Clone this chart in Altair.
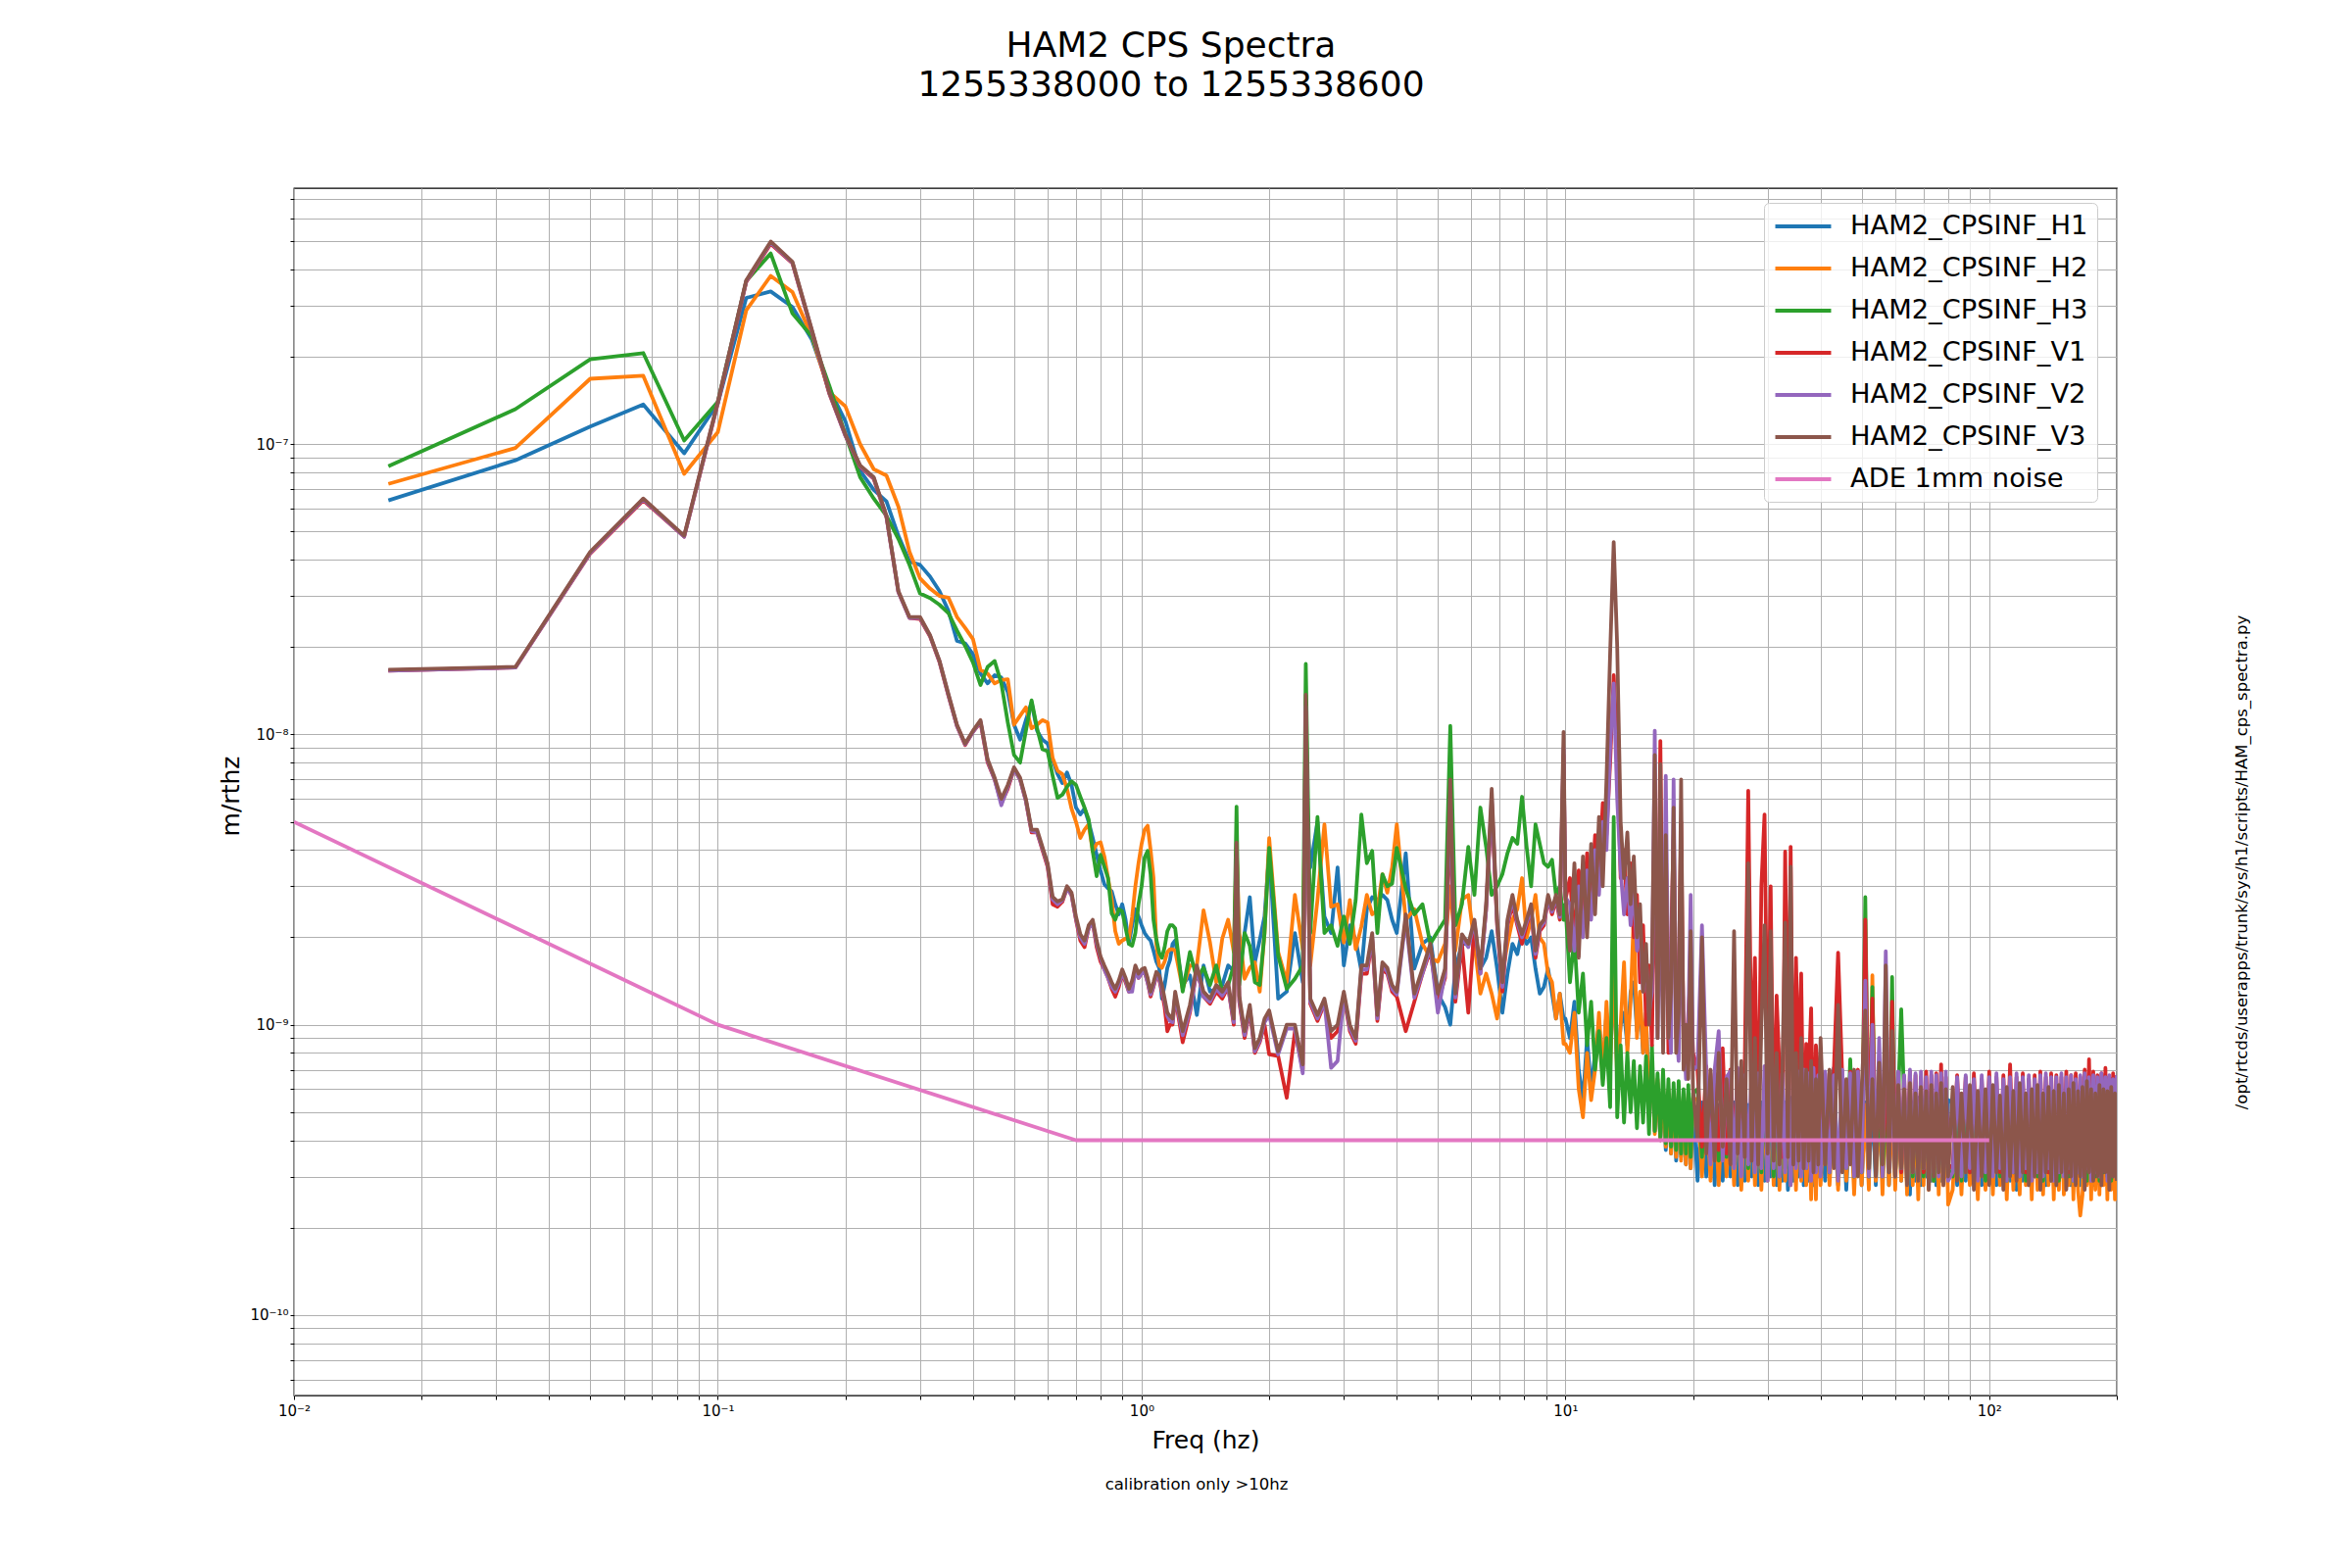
import sys
import altair as alt
import pandas as pd

TITLE_LINES = ["HAM2 CPS Spectra", "1255338000 to 1255338600"]
X_TITLE = "Freq (hz)"
Y_TITLE = "m/rthz"
FOOTNOTE = "calibration only >10hz"
SCRIPT_PATH = "/opt/rtcds/userapps/trunk/sys/h1/scripts/HAM_cps_spectra.py"

SERIES = ["HAM2_CPSINF_H1", "HAM2_CPSINF_H2", "HAM2_CPSINF_H3",
          "HAM2_CPSINF_V1", "HAM2_CPSINF_V2", "HAM2_CPSINF_V3", "ADE 1mm noise"]
COLORS = ["#1f77b4", "#ff7f0e", "#2ca02c", "#d62728", "#9467bd", "#8c564b", "#e377c2"]

# ---------------- frequency grids (Hz) ----------------
FREQ_LO = [
    0.0167, 0.0333, 0.05, 0.0667, 0.0833, 0.1, 0.1167, 0.1333, 0.15, 0.1667,
    0.1833, 0.2, 0.2167, 0.2333, 0.25, 0.2667, 0.2833, 0.3, 0.3167, 0.3333,
    0.35, 0.3667, 0.3833, 0.4, 0.4167, 0.4333, 0.45, 0.4667, 0.4833, 0.5,
    0.5167, 0.5333, 0.55, 0.5667, 0.5833, 0.6, 0.6167, 0.6333, 0.65, 0.6667,
    0.6833, 0.7, 0.7167, 0.7333, 0.75, 0.7667, 0.7833, 0.8, 0.8167, 0.8333,
    0.85, 0.8667, 0.8833, 0.9, 0.9167, 0.9333, 0.95, 0.9667, 0.9833, 1.0,
    1.0167, 1.0333, 1.05, 1.0667, 1.0833, 1.1, 1.1167, 1.1333, 1.15, 1.1667,
    1.1833, 1.2]
FREQ_MID = [
    1.25, 1.3, 1.35, 1.4, 1.45, 1.5, 1.55, 1.6, 1.65, 1.675,
    1.7, 1.75, 1.8, 1.85, 1.9, 1.95, 2.0, 2.1, 2.2, 2.3,
    2.4, 2.44, 2.5, 2.6, 2.7, 2.8, 2.9, 3.0, 3.1, 3.2,
    3.3, 3.4, 3.5, 3.6, 3.7, 3.8, 3.9, 4.0, 4.2, 4.4,
    4.6, 4.8, 5.0, 5.2, 5.35, 5.5, 5.7, 5.9, 6.1, 6.3,
    6.5, 6.7, 6.9, 7.1, 7.3, 7.5, 7.7, 7.9, 8.1, 8.3,
    8.5, 8.7, 8.9, 9.1, 9.3, 9.5, 9.7, 9.9, 10.0]
FREQ_HI = [
    10.25, 10.5, 10.75, 11.0, 11.25, 11.5, 11.75, 12.0, 12.25, 12.5,
    12.75, 13.0, 13.25, 13.5, 13.75, 14.0, 14.25, 14.5, 14.75, 15.0,
    15.25, 15.5, 15.75, 16.0, 16.25, 16.5, 16.75, 17.0, 17.25, 17.5,
    17.75, 18.0, 18.25, 18.5, 18.75, 19.0, 19.25, 19.5, 19.75, 20.0,
    20.5, 21.0, 21.5, 22.0, 22.5, 23.0, 23.5, 24.0, 24.5, 25.0,
    25.5, 26.0, 26.5, 27.0, 27.5, 28.0, 28.5, 29.0, 29.5, 30.0,
    30.5, 31.0, 31.5, 32.0, 32.5, 33.0, 33.5, 34.0, 34.5, 35.0,
    35.5, 36.0, 36.5, 37.0, 37.5, 38.0, 38.5, 39.0, 39.5, 40.0,
    41, 42, 43, 44, 45, 46, 47, 48, 49, 50,
    51, 52, 53, 54, 55, 56, 57, 58, 59, 60,
    61, 62, 63, 64, 65, 66, 67, 68, 69, 70,
    71, 72, 73, 74, 75, 76, 77, 78, 79, 80,
    82, 84, 86, 88, 90, 92, 94, 96, 98, 100,
    102, 104, 106, 108, 110, 112, 114, 116, 118, 120,
    122, 124, 126, 128, 130, 132, 134, 136, 138, 140,
    142, 144, 146, 148, 150, 152, 154, 156, 158, 160,
    162, 164, 166, 168, 170, 172, 174, 176, 178, 180,
    182, 184, 186, 188, 190, 192, 194, 196, 198, 200]

# ---------------- HAM2_CPSINF_H1 (m/rtHz) ----------------
H1_LO = [
    6.4e-8, 8.8e-8, 1.15e-7, 1.37e-7, 9.3e-8, 1.38e-7, 3.19e-7, 3.36e-7, 2.97e-7, 2.29e-7,
    1.55e-7, 1.2e-7, 8.1e-8, 6.96e-8, 6.35e-8, 4.84e-8, 3.94e-8, 3.84e-8, 3.5e-8, 3.12e-8,
    2.67e-8, 2.1e-8, 2.06e-8, 1.89e-8, 1.62e-8, 1.5e-8, 1.6e-8, 1.57e-8, 1.4e-8, 1.08e-8,
    9.6e-9, 1.12e-8, 1.29e-8, 1.03e-8, 9.6e-9, 9.3e-9, 8.2e-9, 7.3e-9, 6.8e-9, 7.4e-9,
    6.7e-9, 5.6e-9, 5.3e-9, 5.55e-9, 5.0e-9, 4.4e-9, 3.85e-9, 3.4e-9, 3.05e-9, 2.95e-9,
    2.88e-9, 2.6e-9, 2.4e-9, 2.6e-9, 2.3e-9, 1.9e-9, 2.2e-9, 2.5e-9, 2.36e-9, 2.2e-9,
    2.07e-9, 2.0e-9, 1.95e-9, 1.8e-9, 1.65e-9, 1.57e-9, 1.23e-9, 1.37e-9, 1.57e-9, 1.67e-9,
    1.9e-9, 1.95e-9]
H1_MID = [
    1.37e-9, 1.48e-9, 1.08e-9, 1.6e-9, 1.3e-9, 1.33e-9, 1.37e-9, 1.6e-9, 1.53e-9, 1.7e-9,
    1.48e-9, 2.07e-9, 2.75e-9, 1.64e-9, 1.96e-9, 2.36e-9, 3.97e-9, 1.23e-9, 1.3e-9, 2.07e-9,
    1.4e-9, 6.0e-9, 3.48e-9, 5.0e-9, 2.36e-9, 2.07e-9, 3.48e-9, 1.6e-9, 2.2e-9, 1.96e-9,
    1.53e-9, 2.5e-9, 2.75e-9, 2.69e-9, 2.8e-9, 2.69e-9, 2.3e-9, 2.07e-9, 3.9e-9, 1.56e-9,
    1.9e-9, 2.0e-9, 1.28e-9, 1.15e-9, 1.0e-9, 1.56e-9, 1.9e-9, 1.9e-9, 2.05e-9, 1.56e-9,
    1.7e-9, 2.1e-9, 1.56e-9, 1.1e-9, 1.5e-9, 1.9e-9, 1.75e-9, 2.1e-9, 1.9e-9, 2.0e-9,
    1.56e-9, 1.28e-9, 1.35e-9, 1.56e-9, 1.28e-9, 1.05e-9, 1.28e-9, 1.05e-9, 1.05e-9]
H1_HI = [
    9.0e-10, 1.2e-9, 7.0e-10, 5.5e-10, 9.0e-10, 6.0e-10, 8.0e-10, 1.0e-9, 7.0e-10, 1.1e-9,
    8.0e-10, 1.4e-9, 7.0e-10, 1.0e-9, 1.1e-9, 8.5e-10, 1.3e-9, 1.4e-9, 9.5e-10, 1.2e-9,
    8.0e-10, 1.05e-9, 5.5e-10, 7.0e-10, 4.3e-10, 6.3e-10, 4.0e-10, 6.0e-10, 3.7e-10, 5.8e-10,
    3.6e-10, 5.6e-10, 3.4e-10, 5.7e-10, 3.5e-10, 5.5e-10, 3.3e-10, 5.6e-10, 3.2e-10, 5.4e-10,
    2.9e-10, 5.4e-10, 3.0e-10, 5.6e-10, 2.8e-10, 5.3e-10, 2.9e-10, 5.5e-10, 3.0e-10, 5.4e-10,
    2.8e-10, 5.6e-10, 2.9e-10, 5.3e-10, 3.0e-10, 5.5e-10, 2.8e-10, 5.4e-10, 2.9e-10, 5.6e-10,
    3.0e-10, 5.3e-10, 2.8e-10, 5.5e-10, 2.9e-10, 5.4e-10, 2.7e-10, 5.6e-10, 2.9e-10, 5.3e-10,
    3.0e-10, 5.5e-10, 2.8e-10, 5.4e-10, 2.9e-10, 5.6e-10, 2.8e-10, 5.3e-10, 3.0e-10, 5.5e-10,
    2.9e-10, 5.4e-10, 7.1e-10, 2.8e-10, 5.5e-10, 2.7e-10, 5.3e-10, 2.9e-10, 5.6e-10, 2.8e-10,
    5.4e-10, 3.0e-10, 5.5e-10, 2.8e-10, 5.3e-10, 2.9e-10, 5.6e-10, 2.8e-10, 5.4e-10, 3.0e-10,
    5.5e-10, 2.9e-10, 5.3e-10, 2.8e-10, 2.6e-10, 5.4e-10, 2.9e-10, 5.6e-10, 2.8e-10, 5.3e-10,
    3.0e-10, 5.5e-10, 2.9e-10, 5.4e-10, 2.8e-10, 5.6e-10, 2.9e-10, 5.3e-10, 3.0e-10, 5.5e-10,
    5.4e-10, 2.8e-10, 5.5e-10, 2.9e-10, 5.3e-10, 3.0e-10, 5.6e-10, 2.8e-10, 5.4e-10, 2.9e-10,
    5.5e-10, 2.8e-10, 5.3e-10, 3.0e-10, 5.6e-10, 2.9e-10, 5.4e-10, 2.7e-10, 5.5e-10, 2.9e-10,
    5.3e-10, 2.8e-10, 5.6e-10, 3.0e-10, 5.4e-10, 2.9e-10, 5.5e-10, 2.8e-10, 5.3e-10, 2.9e-10,
    5.6e-10, 2.8e-10, 5.4e-10, 3.0e-10, 5.5e-10, 2.9e-10, 5.3e-10, 2.8e-10, 5.6e-10, 2.9e-10,
    5.4e-10, 2.8e-10, 5.5e-10, 3.0e-10, 5.3e-10, 2.9e-10, 5.6e-10, 2.8e-10, 5.4e-10, 2.9e-10,
    5.5e-10, 2.8e-10, 5.3e-10, 3.0e-10, 5.6e-10, 2.9e-10, 5.4e-10, 2.8e-10, 5.5e-10, 2.7e-10]

# ---------------- HAM2_CPSINF_H2 ----------------
H2_LO = [
    7.3e-8, 9.7e-8, 1.68e-7, 1.72e-7, 7.9e-8, 1.1e-7, 2.89e-7, 3.8e-7, 3.34e-7, 2.35e-7,
    1.51e-7, 1.35e-7, 1.0e-7, 8.2e-8, 7.8e-8, 6.1e-8, 4.26e-8, 3.45e-8, 3.18e-8, 3.0e-8,
    2.96e-8, 2.54e-8, 2.33e-8, 2.13e-8, 1.67e-8, 1.62e-8, 1.5e-8, 1.54e-8, 1.55e-8, 1.08e-8,
    1.16e-8, 1.24e-8, 1.05e-8, 1.08e-8, 1.12e-8, 1.1e-8, 8.3e-9, 7.5e-9, 7.3e-9, 6.5e-9,
    5.55e-9, 5.0e-9, 4.4e-9, 4.7e-9, 4.9e-9, 3.96e-9, 4.2e-9, 4.25e-9, 3.8e-9, 3.2e-9,
    2.7e-9, 2.1e-9, 1.9e-9, 1.95e-9, 1.98e-9, 1.98e-9, 2.36e-9, 3.0e-9, 3.6e-9, 4.2e-9,
    4.7e-9, 4.85e-9, 4.0e-9, 3.2e-9, 1.9e-9, 1.6e-9, 1.57e-9, 1.65e-9, 1.78e-9, 1.82e-9,
    1.82e-9, 1.8e-9]
H2_MID = [
    1.33e-9, 1.6e-9, 1.6e-9, 2.48e-9, 1.92e-9, 1.4e-9, 1.98e-9, 2.3e-9, 1.78e-9, 4.07e-9,
    2.07e-9, 1.44e-9, 1.57e-9, 1.64e-9, 1.3e-9, 2.07e-9, 4.4e-9, 1.78e-9, 1.4e-9, 2.8e-9,
    1.82e-9, 8.0e-9, 1.6e-9, 2.69e-9, 4.9e-9, 2.55e-9, 2.6e-9, 1.92e-9, 2.69e-9, 1.82e-9,
    2.18e-9, 2.8e-9, 2.4e-9, 2.48e-9, 3.3e-9, 2.85e-9, 3.48e-9, 4.9e-9, 2.3e-9, 2.5e-9,
    1.9e-9, 1.7e-9, 1.65e-9, 1.9e-9, 3.0e-9, 1.8e-9, 2.7e-9, 2.8e-9, 1.9e-9, 1.28e-9,
    1.5e-9, 1.28e-9, 1.05e-9, 1.5e-9, 1.9e-9, 2.3e-9, 2.5e-9, 3.2e-9, 2.0e-9, 2.3e-9,
    2.8e-9, 2.0e-9, 1.9e-9, 1.5e-9, 1.4e-9, 1.05e-9, 1.28e-9, 8.6e-10, 8.6e-10]
H2_HI = [
    8.0e-10, 1.1e-9, 6.0e-10, 4.8e-10, 8.0e-10, 5.5e-10, 7.0e-10, 1.1e-9, 6.5e-10, 1.2e-9,
    7.0e-10, 1.6e-9, 6.5e-10, 1.0e-9, 1.64e-9, 8.0e-10, 1.2e-9, 2.4e-9, 9.0e-10, 1.3e-9,
    8.0e-10, 1.1e-9, 5.0e-10, 7.5e-10, 4.2e-10, 6.5e-10, 4.0e-10, 6.2e-10, 3.8e-10, 6.0e-10,
    3.6e-10, 5.8e-10, 3.5e-10, 6.0e-10, 3.4e-10, 5.7e-10, 3.3e-10, 5.8e-10, 3.2e-10, 5.6e-10,
    5.5e-10, 3.0e-10, 5.7e-10, 2.9e-10, 5.4e-10, 2.8e-10, 5.6e-10, 3.0e-10, 5.3e-10, 2.8e-10,
    5.5e-10, 2.7e-10, 5.4e-10, 2.9e-10, 5.6e-10, 2.8e-10, 5.3e-10, 2.7e-10, 5.5e-10, 2.9e-10,
    5.4e-10, 2.8e-10, 5.6e-10, 2.7e-10, 5.3e-10, 2.9e-10, 5.5e-10, 2.8e-10, 5.4e-10, 2.7e-10,
    5.6e-10, 2.9e-10, 5.3e-10, 2.8e-10, 5.5e-10, 2.5e-10, 5.4e-10, 2.5e-10, 5.6e-10, 2.8e-10,
    5.5e-10, 2.8e-10, 5.3e-10, 2.7e-10, 5.6e-10, 2.9e-10, 5.4e-10, 2.6e-10, 5.5e-10, 2.8e-10,
    5.3e-10, 2.7e-10, 1.48e-9, 2.9e-10, 5.4e-10, 2.6e-10, 5.6e-10, 2.8e-10, 5.3e-10, 2.7e-10,
    5.5e-10, 2.9e-10, 5.4e-10, 2.6e-10, 5.6e-10, 2.8e-10, 5.3e-10, 2.5e-10, 5.5e-10, 2.8e-10,
    5.4e-10, 2.7e-10, 5.6e-10, 2.9e-10, 5.3e-10, 2.6e-10, 5.5e-10, 2.8e-10, 5.4e-10, 2.4e-10,
    2.7e-10, 5.4e-10, 2.6e-10, 5.5e-10, 2.8e-10, 5.3e-10, 2.5e-10, 5.6e-10, 2.7e-10, 5.4e-10,
    2.6e-10, 5.5e-10, 2.8e-10, 5.3e-10, 2.5e-10, 5.6e-10, 2.7e-10, 5.4e-10, 2.6e-10, 5.5e-10,
    2.8e-10, 5.3e-10, 2.5e-10, 5.6e-10, 2.7e-10, 5.4e-10, 2.6e-10, 5.5e-10, 2.8e-10, 5.3e-10,
    2.5e-10, 5.6e-10, 2.7e-10, 5.4e-10, 2.6e-10, 5.5e-10, 2.8e-10, 5.3e-10, 2.5e-10, 5.6e-10,
    2.7e-10, 2.2e-10, 2.6e-10, 5.5e-10, 2.8e-10, 5.3e-10, 2.5e-10, 5.6e-10, 2.7e-10, 5.4e-10,
    2.6e-10, 5.5e-10, 2.8e-10, 5.3e-10, 2.5e-10, 5.6e-10, 2.7e-10, 5.4e-10, 2.5e-10, 5.5e-10]

# ---------------- HAM2_CPSINF_H3 ----------------
H3_LO = [
    8.4e-8, 1.32e-7, 1.96e-7, 2.06e-7, 1.03e-7, 1.4e-7, 3.65e-7, 4.54e-7, 2.82e-7, 2.35e-7,
    1.59e-7, 1.08e-7, 7.7e-8, 6.5e-8, 5.66e-8, 4.72e-8, 3.84e-8, 3.06e-8, 2.95e-8, 2.8e-8,
    2.62e-8, 2.28e-8, 2.02e-8, 1.77e-8, 1.48e-8, 1.71e-8, 1.79e-8, 1.5e-8, 1.1e-8, 8.5e-9,
    8.0e-9, 1.03e-8, 1.31e-8, 1.05e-8, 8.9e-9, 8.75e-9, 7.2e-9, 6.05e-9, 6.2e-9, 6.6e-9,
    6.9e-9, 6.7e-9, 6.1e-9, 5.6e-9, 5.1e-9, 3.96e-9, 3.25e-9, 3.85e-9, 3.5e-9, 3.2e-9,
    2.42e-9, 2.3e-9, 2.5e-9, 2.46e-9, 2.15e-9, 1.9e-9, 1.87e-9, 2.07e-9, 2.6e-9, 3.0e-9,
    3.77e-9, 3.97e-9, 3.3e-9, 2.3e-9, 1.97e-9, 1.77e-9, 1.7e-9, 1.85e-9, 2.1e-9, 2.2e-9,
    2.2e-9, 2.15e-9]
H3_MID = [
    1.3e-9, 1.78e-9, 1.44e-9, 1.57e-9, 1.37e-9, 1.6e-9, 1.3e-9, 1.37e-9, 1.6e-9, 5.64e-9,
    1.37e-9, 2.07e-9, 1.87e-9, 1.4e-9, 1.37e-9, 2.07e-9, 4.07e-9, 1.73e-9, 1.33e-9, 1.44e-9,
    1.6e-9, 1.75e-8, 2.07e-9, 5.2e-9, 2.07e-9, 2.2e-9, 1.87e-9, 2.36e-9, 1.9e-9, 2.69e-9,
    5.3e-9, 3.6e-9, 3.97e-9, 2.07e-9, 3.3e-9, 3.0e-9, 3.06e-9, 4.07e-9, 2.94e-9, 2.4e-9,
    2.6e-9, 1.9e-9, 2.1e-9, 2.3e-9, 1.07e-8, 2.2e-9, 2.6e-9, 4.1e-9, 2.8e-9, 5.6e-9,
    4.1e-9, 2.8e-9, 3.0e-9, 3.3e-9, 3.9e-9, 4.4e-9, 4.2e-9, 6.1e-9, 4.1e-9, 3.0e-9,
    4.9e-9, 4.2e-9, 3.6e-9, 3.5e-9, 3.7e-9, 2.8e-9, 3.0e-9, 2.3e-9, 2.6e-9]
H3_HI = [
    1.4e-9, 2.0e-9, 1.1e-9, 1.5e-9, 8.5e-10, 1.2e-9, 7.0e-10, 9.5e-10, 6.2e-10, 9.0e-10,
    5.2e-10, 5.2e-9, 4.8e-10, 8.5e-10, 4.6e-10, 8.0e-10, 5.0e-10, 7.5e-10, 4.4e-10, 7.2e-10,
    4.6e-10, 7.8e-10, 4.2e-10, 8.5e-10, 4.3e-10, 6.8e-10, 4.1e-10, 7.0e-10, 3.9e-10, 6.5e-10,
    3.8e-10, 6.3e-10, 3.7e-10, 6.4e-10, 3.6e-10, 6.0e-10, 3.6e-10, 6.2e-10, 3.5e-10, 5.8e-10,
    6.0e-10, 3.5e-10, 6.2e-10, 3.6e-10, 5.8e-10, 3.4e-10, 6.0e-10, 3.5e-10, 5.7e-10, 3.3e-10,
    5.9e-10, 3.4e-10, 5.6e-10, 3.2e-10, 5.8e-10, 3.3e-10, 5.5e-10, 3.1e-10, 5.7e-10, 3.2e-10,
    5.6e-10, 3.0e-10, 5.8e-10, 3.0e-10, 5.5e-10, 3.2e-10, 5.7e-10, 3.1e-10, 5.6e-10, 3.3e-10,
    5.5e-10, 3.1e-10, 5.7e-10, 3.2e-10, 5.6e-10, 3.0e-10, 5.8e-10, 3.2e-10, 5.5e-10, 3.1e-10,
    5.8e-10, 3.1e-10, 5.6e-10, 3.0e-10, 5.7e-10, 3.2e-10, 7.6e-10, 3.0e-10, 5.5e-10, 3.1e-10,
    2.75e-9, 3.0e-10, 1.35e-9, 3.2e-10, 5.6e-10, 3.0e-10, 5.8e-10, 3.1e-10, 1.46e-9, 3.0e-10,
    5.7e-10, 1.13e-9, 5.5e-10, 3.1e-10, 5.7e-10, 3.0e-10, 5.6e-10, 3.2e-10, 5.5e-10, 3.0e-10,
    5.8e-10, 3.1e-10, 5.6e-10, 2.9e-10, 5.7e-10, 3.1e-10, 5.5e-10, 3.0e-10, 5.6e-10, 3.2e-10,
    3.0e-10, 5.6e-10, 2.9e-10, 5.5e-10, 3.1e-10, 5.7e-10, 3.0e-10, 5.4e-10, 2.9e-10, 5.6e-10,
    3.1e-10, 5.5e-10, 3.0e-10, 5.7e-10, 2.9e-10, 5.4e-10, 3.1e-10, 5.6e-10, 3.0e-10, 5.5e-10,
    2.9e-10, 5.7e-10, 3.1e-10, 5.4e-10, 3.0e-10, 5.6e-10, 2.9e-10, 5.5e-10, 3.1e-10, 5.7e-10,
    3.0e-10, 5.4e-10, 2.9e-10, 5.6e-10, 3.1e-10, 5.5e-10, 3.0e-10, 5.7e-10, 2.9e-10, 5.4e-10,
    3.1e-10, 5.6e-10, 3.0e-10, 5.5e-10, 2.9e-10, 5.9e-10, 3.1e-10, 5.4e-10, 3.0e-10, 5.6e-10,
    2.9e-10, 5.5e-10, 3.1e-10, 5.7e-10, 3.0e-10, 5.4e-10, 2.9e-10, 5.6e-10, 3.1e-10, 5.5e-10]

# ---------------- HAM2_CPSINF_V1 ----------------
V1_LO = [
    1.66e-8, 1.7e-8, 4.2e-8, 6.4e-8, 4.8e-8, 1.38e-7, 3.62e-7, 4.9e-7, 4.2e-7, 2.45e-7,
    1.49e-7, 1.07e-7, 8.35e-8, 7.6e-8, 5.6e-8, 3.1e-8, 2.52e-8, 2.5e-8, 2.18e-8, 1.78e-8,
    1.36e-8, 1.07e-8, 9.2e-9, 1.02e-8, 1.1e-8, 8.0e-9, 7.0e-9, 5.8e-9, 6.5e-9, 7.6e-9,
    7.0e-9, 5.9e-9, 4.6e-9, 4.6e-9, 4.0e-9, 3.5e-9, 2.6e-9, 2.55e-9, 2.65e-9, 2.95e-9,
    2.8e-9, 2.3e-9, 1.95e-9, 1.85e-9, 2.15e-9, 2.25e-9, 1.85e-9, 1.65e-9, 1.55e-9, 1.45e-9,
    1.33e-9, 1.25e-9, 1.35e-9, 1.5e-9, 1.4e-9, 1.3e-9, 1.38e-9, 1.55e-9, 1.45e-9, 1.5e-9,
    1.52e-9, 1.4e-9, 1.25e-9, 1.35e-9, 1.47e-9, 1.43e-9, 1.3e-9, 1.15e-9, 9.5e-10, 1.0e-9,
    1.0e-9, 1.25e-9]
V1_MID = [
    8.7e-10, 1.1e-9, 1.55e-9, 1.25e-9, 1.18e-9, 1.3e-9, 1.23e-9, 1.35e-9, 1.0e-9, 3.6e-9,
    1.2e-9, 9.0e-10, 1.12e-9, 8.0e-10, 8.7e-10, 1.0e-9, 7.9e-10, 7.8e-10, 5.6e-10, 9.5e-10,
    7.0e-10, 1.2e-8, 1.18e-9, 1.03e-9, 1.18e-9, 9.0e-10, 9.5e-10, 1.25e-9, 9.5e-10, 8.6e-10,
    1.5e-9, 1.5e-9, 1.95e-9, 1.03e-9, 1.55e-9, 1.5e-9, 1.3e-9, 1.25e-9, 9.5e-10, 1.2e-9,
    1.5e-9, 1.8e-9, 1.2e-9, 1.45e-9, 5.5e-9, 1.2e-9, 1.9e-9, 1.1e-9, 2.2e-9, 1.5e-9,
    2.5e-9, 5.8e-9, 2.2e-9, 1.3e-9, 2.2e-9, 2.6e-9, 2.2e-9, 1.9e-9, 2.2e-9, 2.5e-9,
    1.7e-9, 2.1e-9, 2.2e-9, 2.7e-9, 2.4e-9, 2.7e-9, 2.3e-9, 8.5e-9, 2.7e-9]
V1_HI = [
    3.2e-9, 2.0e-9, 3.4e-9, 2.2e-9, 3.9e-9, 2.6e-9, 4.5e-9, 3.2e-9, 5.8e-9, 4.5e-9,
    8.0e-9, 1.6e-8, 9.0e-9, 3.2e-9, 4.0e-9, 2.4e-9, 3.6e-9, 2.0e-9, 2.8e-9, 1.4e-9,
    2.2e-9, 1.0e-9, 1.6e-9, 8.5e-10, 4.0e-9, 1.2e-9, 9.5e-9, 1.1e-9, 4.0e-9, 8.0e-10,
    1.9e-9, 4.5e-9, 9.0e-10, 1.4e-9, 5.0e-9, 9.0e-10, 7.0e-10, 1.1e-9, 1.5e-9, 8.0e-10,
    7.0e-10, 3.8e-10, 7.2e-10, 3.5e-10, 6.8e-10, 3.7e-10, 8.3e-10, 3.6e-10, 7.0e-10, 3.8e-10,
    6.9e-10, 3.5e-10, 7.3e-10, 6.4e-9, 6.8e-10, 1.7e-9, 3.7e-10, 3.0e-9, 5.3e-9, 7.0e-10,
    3.0e-9, 3.6e-10, 1.26e-9, 6.9e-10, 3.5e-10, 3.95e-9, 6.8e-10, 4.1e-9, 3.6e-10, 1.7e-9,
    6.5e-10, 1.5e-9, 3.5e-10, 8.6e-10, 6.7e-10, 1.14e-9, 3.4e-10, 8.5e-10, 6.8e-10, 3.6e-10,
    6.8e-10, 3.4e-10, 7.0e-10, 1.77e-9, 6.6e-10, 3.3e-10, 6.9e-10, 3.5e-10, 7.0e-10, 3.2e-10,
    2.3e-9, 3.4e-10, 1.23e-9, 3.3e-10, 6.7e-10, 3.5e-10, 7.1e-10, 3.2e-10, 1.2e-9, 3.4e-10,
    6.8e-10, 3.1e-10, 6.6e-10, 3.3e-10, 6.9e-10, 3.2e-10, 6.7e-10, 3.4e-10, 6.6e-10, 3.1e-10,
    6.9e-10, 3.3e-10, 6.7e-10, 3.2e-10, 6.8e-10, 3.4e-10, 7.3e-10, 3.2e-10, 6.6e-10, 3.3e-10,
    3.2e-10, 6.7e-10, 3.4e-10, 6.6e-10, 3.1e-10, 6.8e-10, 3.3e-10, 6.5e-10, 3.2e-10, 6.9e-10,
    3.4e-10, 6.6e-10, 3.1e-10, 6.7e-10, 3.3e-10, 7.3e-10, 3.2e-10, 6.6e-10, 3.4e-10, 6.8e-10,
    3.1e-10, 6.5e-10, 3.3e-10, 6.7e-10, 3.2e-10, 6.9e-10, 3.4e-10, 6.6e-10, 3.1e-10, 6.8e-10,
    3.3e-10, 6.7e-10, 3.2e-10, 6.6e-10, 3.4e-10, 6.9e-10, 3.1e-10, 6.7e-10, 3.3e-10, 6.8e-10,
    3.2e-10, 6.6e-10, 3.4e-10, 7.0e-10, 3.2e-10, 7.6e-10, 3.3e-10, 6.9e-10, 3.1e-10, 6.7e-10,
    3.4e-10, 6.8e-10, 3.2e-10, 7.1e-10, 3.3e-10, 6.6e-10, 3.1e-10, 6.8e-10, 3.3e-10, 6.7e-10]

# ---------------- HAM2_CPSINF_V2 ----------------
V2_LO = [
    1.66e-8, 1.7e-8, 4.22e-8, 6.45e-8, 4.8e-8, 1.39e-7, 3.64e-7, 4.95e-7, 4.22e-7, 2.46e-7,
    1.5e-7, 1.07e-7, 8.4e-8, 7.65e-8, 5.62e-8, 3.1e-8, 2.52e-8, 2.52e-8, 2.19e-8, 1.79e-8,
    1.37e-8, 1.07e-8, 9.25e-9, 1.02e-8, 1.11e-8, 8.1e-9, 7.0e-9, 5.7e-9, 6.6e-9, 7.6e-9,
    7.0e-9, 5.9e-9, 4.65e-9, 4.6e-9, 4.05e-9, 3.55e-9, 2.7e-9, 2.6e-9, 2.68e-9, 2.95e-9,
    2.8e-9, 2.32e-9, 2.0e-9, 1.9e-9, 2.15e-9, 2.25e-9, 1.9e-9, 1.7e-9, 1.55e-9, 1.45e-9,
    1.35e-9, 1.3e-9, 1.38e-9, 1.5e-9, 1.42e-9, 1.3e-9, 1.3e-9, 1.55e-9, 1.45e-9, 1.5e-9,
    1.52e-9, 1.4e-9, 1.27e-9, 1.36e-9, 1.48e-9, 1.44e-9, 1.33e-9, 1.2e-9, 1.07e-9, 1.03e-9,
    1.02e-9, 1.26e-9]
V2_MID = [
    9.2e-10, 1.12e-9, 1.55e-9, 1.25e-9, 1.2e-9, 1.33e-9, 1.26e-9, 1.35e-9, 1.02e-9, 3.8e-9,
    1.22e-9, 9.2e-10, 1.14e-9, 8.1e-10, 8.8e-10, 1.02e-9, 1.08e-9, 7.9e-10, 9.7e-10, 9.7e-10,
    6.8e-10, 1.25e-8, 1.2e-9, 1.05e-9, 1.2e-9, 7.1e-10, 7.5e-10, 1.27e-9, 9.7e-10, 8.8e-10,
    1.55e-9, 1.55e-9, 2.0e-9, 1.05e-9, 1.6e-9, 1.52e-9, 1.33e-9, 1.27e-9, 2.3e-9, 1.24e-9,
    1.5e-9, 1.85e-9, 1.1e-9, 1.5e-9, 6.2e-9, 1.24e-9, 2.0e-9, 1.85e-9, 2.25e-9, 1.5e-9,
    2.5e-9, 6.0e-9, 2.25e-9, 1.35e-9, 2.25e-9, 2.7e-9, 2.25e-9, 2.0e-9, 2.25e-9, 2.5e-9,
    1.75e-9, 2.15e-9, 2.25e-9, 2.7e-9, 2.45e-9, 2.75e-9, 2.35e-9, 9.0e-9, 2.75e-9]
V2_HI = [
    2.6e-9, 1.8e-9, 3.0e-9, 2.0e-9, 3.4e-9, 2.3e-9, 4.0e-9, 2.8e-9, 5.0e-9, 4.0e-9,
    9.0e-9, 1.5e-8, 6.0e-9, 3.4e-9, 2.4e-9, 3.2e-9, 2.2e-9, 3.0e-9, 1.8e-9, 2.2e-9,
    1.3e-9, 1.7e-9, 1.1e-9, 1.3e-9, 1.03e-8, 9.0e-10, 3.0e-9, 9.0e-10, 7.2e-9, 1.2e-9,
    8.0e-10, 7.0e-9, 1.0e-9, 7.5e-10, 3.0e-9, 1.0e-9, 6.5e-10, 1.0e-9, 2.8e-9, 7.0e-10,
    7.2e-10, 2.2e-9, 6.8e-10, 3.3e-10, 7.0e-10, 9.5e-10, 3.4e-10, 6.6e-10, 6.9e-10, 3.2e-10,
    7.1e-10, 3.0e-10, 6.7e-10, 3.3e-10, 7.0e-10, 3.1e-10, 6.8e-10, 3.2e-10, 7.2e-10, 2.9e-10,
    6.9e-10, 3.2e-10, 7.0e-10, 3.0e-10, 6.8e-10, 3.1e-10, 7.1e-10, 2.8e-10, 6.7e-10, 3.2e-10,
    6.9e-10, 3.0e-10, 7.0e-10, 3.2e-10, 6.8e-10, 2.9e-10, 7.1e-10, 3.1e-10, 6.7e-10, 3.0e-10,
    6.9e-10, 3.1e-10, 6.7e-10, 2.9e-10, 7.0e-10, 3.2e-10, 6.8e-10, 3.0e-10, 6.9e-10, 3.1e-10,
    1.42e-9, 3.0e-10, 1.0e-9, 3.2e-10, 9.0e-10, 3.0e-10, 1.79e-9, 3.1e-10, 6.8e-10, 3.0e-10,
    6.9e-10, 3.2e-10, 6.7e-10, 2.9e-10, 7.0e-10, 3.1e-10, 6.8e-10, 3.0e-10, 6.9e-10, 3.2e-10,
    6.6e-10, 2.9e-10, 6.9e-10, 3.1e-10, 6.7e-10, 3.0e-10, 6.8e-10, 3.2e-10, 6.9e-10, 2.9e-10,
    3.1e-10, 6.6e-10, 3.0e-10, 6.7e-10, 3.2e-10, 6.5e-10, 2.9e-10, 6.7e-10, 3.1e-10, 6.6e-10,
    3.0e-10, 6.8e-10, 3.2e-10, 6.5e-10, 2.9e-10, 6.6e-10, 3.1e-10, 6.8e-10, 3.0e-10, 6.6e-10,
    3.2e-10, 6.7e-10, 2.9e-10, 6.5e-10, 3.1e-10, 6.7e-10, 3.0e-10, 6.8e-10, 3.2e-10, 6.6e-10,
    2.9e-10, 6.6e-10, 3.1e-10, 6.8e-10, 3.0e-10, 6.6e-10, 3.2e-10, 6.7e-10, 2.9e-10, 6.5e-10,
    3.1e-10, 6.7e-10, 3.0e-10, 6.8e-10, 3.2e-10, 6.6e-10, 2.9e-10, 6.7e-10, 3.1e-10, 6.6e-10,
    3.0e-10, 6.8e-10, 3.2e-10, 6.6e-10, 2.9e-10, 6.7e-10, 3.1e-10, 6.5e-10, 3.0e-10, 6.7e-10]

# ---------------- HAM2_CPSINF_V3 ----------------
V3_LO = [
    1.67e-8, 1.71e-8, 4.26e-8, 6.5e-8, 4.84e-8, 1.4e-7, 3.67e-7, 4.99e-7, 4.25e-7, 2.48e-7,
    1.51e-7, 1.08e-7, 8.45e-8, 7.7e-8, 5.66e-8, 3.12e-8, 2.54e-8, 2.54e-8, 2.2e-8, 1.8e-8,
    1.38e-8, 1.08e-8, 9.3e-9, 1.03e-8, 1.12e-8, 8.2e-9, 7.1e-9, 6.0e-9, 6.7e-9, 7.7e-9,
    7.1e-9, 6.0e-9, 4.7e-9, 4.7e-9, 4.1e-9, 3.6e-9, 2.76e-9, 2.66e-9, 2.7e-9, 3.0e-9,
    2.85e-9, 2.36e-9, 2.05e-9, 1.95e-9, 2.2e-9, 2.3e-9, 1.95e-9, 1.72e-9, 1.6e-9, 1.5e-9,
    1.4e-9, 1.33e-9, 1.42e-9, 1.55e-9, 1.45e-9, 1.33e-9, 1.42e-9, 1.6e-9, 1.5e-9, 1.55e-9,
    1.57e-9, 1.45e-9, 1.3e-9, 1.4e-9, 1.52e-9, 1.48e-9, 1.37e-9, 1.23e-9, 1.1e-9, 1.07e-9,
    1.05e-9, 1.3e-9]
V3_MID = [
    9.5e-10, 1.17e-9, 1.6e-9, 1.3e-9, 1.23e-9, 1.37e-9, 1.3e-9, 1.4e-9, 1.05e-9, 4.24e-9,
    1.26e-9, 9.5e-10, 1.17e-9, 8.3e-10, 9.0e-10, 1.05e-9, 1.12e-9, 8.1e-10, 1.0e-9, 1.0e-9,
    7.3e-10, 1.37e-8, 1.23e-9, 1.08e-9, 1.23e-9, 9.5e-10, 1.0e-9, 1.3e-9, 1.0e-9, 9.0e-10,
    1.6e-9, 1.6e-9, 2.07e-9, 1.08e-9, 1.64e-9, 1.57e-9, 1.37e-9, 1.3e-9, 2.4e-9, 1.28e-9,
    1.56e-9, 1.9e-9, 1.28e-9, 1.56e-9, 7.0e-9, 1.28e-9, 2.05e-9, 1.9e-9, 2.3e-9, 1.56e-9,
    2.6e-9, 6.5e-9, 2.3e-9, 1.4e-9, 2.3e-9, 2.8e-9, 2.3e-9, 2.05e-9, 2.3e-9, 2.6e-9,
    1.8e-9, 2.2e-9, 2.3e-9, 2.8e-9, 2.5e-9, 2.8e-9, 2.4e-9, 1.02e-8, 2.8e-9]
V3_HI = [
    1.8e-9, 3.6e-9, 1.7e-9, 3.8e-9, 2.0e-9, 4.2e-9, 2.4e-9, 5.2e-9, 3.0e-9, 7.0e-9,
    1.9e-8, 4.6e-8, 2.0e-8, 5.0e-9, 3.2e-9, 4.6e-9, 2.6e-9, 3.8e-9, 2.0e-9, 2.6e-9,
    1.3e-9, 1.9e-9, 1.0e-9, 1.6e-9, 8.5e-9, 9.0e-10, 7.9e-9, 8.0e-10, 4.5e-9, 9.0e-10,
    1.3e-9, 5.6e-9, 8.0e-10, 1.1e-9, 7.0e-9, 7.0e-10, 1.0e-9, 6.5e-10, 2.1e-9, 6.0e-10,
    4.0e-10, 2.0e-9, 3.6e-10, 7.0e-10, 3.4e-10, 8.0e-10, 3.8e-10, 6.5e-10, 3.3e-10, 2.1e-9,
    3.6e-10, 7.5e-10, 3.5e-10, 3.6e-9, 3.4e-10, 9.0e-10, 3.3e-10, 1.0e-9, 2.2e-9, 3.6e-10,
    2.1e-9, 3.4e-10, 8.0e-10, 3.3e-10, 7.0e-10, 2.25e-9, 3.5e-10, 3.5e-9, 3.3e-10, 8.0e-10,
    3.4e-10, 9.0e-10, 3.2e-10, 7.0e-10, 3.4e-10, 7.5e-10, 3.1e-10, 6.5e-10, 3.3e-10, 9.0e-10,
    3.3e-10, 7.0e-10, 3.2e-10, 1.17e-9, 3.1e-10, 6.5e-10, 3.3e-10, 7.0e-10, 3.0e-10, 6.0e-10,
    1.12e-9, 3.2e-10, 6.5e-10, 3.0e-10, 7.4e-10, 3.3e-10, 1.6e-9, 3.1e-10, 9.5e-10, 3.0e-10,
    6.2e-10, 3.2e-10, 6.0e-10, 2.8e-10, 6.3e-10, 3.1e-10, 5.8e-10, 2.9e-10, 6.1e-10, 3.2e-10,
    5.9e-10, 2.7e-10, 6.2e-10, 3.0e-10, 5.8e-10, 3.1e-10, 6.3e-10, 2.8e-10, 6.0e-10, 3.0e-10,
    6.1e-10, 2.9e-10, 5.8e-10, 3.1e-10, 6.2e-10, 2.7e-10, 5.9e-10, 3.0e-10, 6.0e-10, 2.8e-10,
    6.2e-10, 3.1e-10, 5.7e-10, 2.7e-10, 6.1e-10, 3.0e-10, 5.9e-10, 2.9e-10, 6.3e-10, 3.1e-10,
    5.8e-10, 2.8e-10, 6.0e-10, 3.0e-10, 6.2e-10, 2.7e-10, 5.8e-10, 3.1e-10, 6.1e-10, 2.9e-10,
    5.9e-10, 2.8e-10, 6.2e-10, 3.1e-10, 5.8e-10, 2.7e-10, 6.0e-10, 3.0e-10, 6.3e-10, 2.8e-10,
    5.9e-10, 3.0e-10, 6.1e-10, 2.7e-10, 6.4e-10, 3.1e-10, 6.0e-10, 2.9e-10, 5.8e-10, 3.0e-10,
    6.2e-10, 2.8e-10, 6.0e-10, 3.1e-10, 5.9e-10, 2.7e-10, 6.1e-10, 3.0e-10, 5.8e-10, 2.9e-10]

# ---------------- ADE 1mm noise ----------------
ADE_FREQ = [0.01, 0.1, 0.7, 100]
ADE_VAL = [5e-9, 1e-9, 4e-10, 4e-10]

# ---------------- axis ticks ----------------
X_DOMAIN = [0.01, 200]
Y_DOMAIN = [5.28e-11, 7.62e-7]
X_TICKS = [0.01, 0.02, 0.03, 0.04, 0.05, 0.06, 0.07, 0.08, 0.09,
           0.1, 0.2, 0.3, 0.4, 0.5, 0.6, 0.7, 0.8, 0.9,
           1, 2, 3, 4, 5, 6, 7, 8, 9,
           10, 20, 30, 40, 50, 60, 70, 80, 90,
           100, 200]
Y_TICKS = [6e-11, 7e-11, 8e-11, 9e-11,
           1e-10, 2e-10, 3e-10, 4e-10, 5e-10, 6e-10, 7e-10, 8e-10, 9e-10,
           1e-9, 2e-9, 3e-9, 4e-9, 5e-9, 6e-9, 7e-9, 8e-9, 9e-9,
           1e-8, 2e-8, 3e-8, 4e-8, 5e-8, 6e-8, 7e-8, 8e-8, 9e-8,
           1e-7, 2e-7, 3e-7, 4e-7, 5e-7, 6e-7, 7e-7]
X_DECADES = [-2, -1, 0, 1, 2]
Y_DECADES = [-10, -9, -8, -7]

# ---------------- build the table ----------------
FREQS = FREQ_LO + FREQ_MID + FREQ_HI
SPECTRA = {
    SERIES[0]: H1_LO + H1_MID + H1_HI,
    SERIES[1]: H2_LO + H2_MID + H2_HI,
    SERIES[2]: H3_LO + H3_MID + H3_HI,
    SERIES[3]: V1_LO + V1_MID + V1_HI,
    SERIES[4]: V2_LO + V2_MID + V2_HI,
    SERIES[5]: V3_LO + V3_MID + V3_HI,
}
rows = []
for name in SERIES[:6]:
    vals = SPECTRA[name]
    if len(vals) != len(FREQS):
        print(f"warning: {name} has {len(vals)} values for {len(FREQS)} freqs", file=sys.stderr)
    for f, v in zip(FREQS, vals):
        rows.append({"series": name, "freq": f, "asd": v})
for f, v in zip(ADE_FREQ, ADE_VAL):
    rows.append({"series": SERIES[6], "freq": f, "asd": v})
df = pd.DataFrame(rows)

SUP = {"-": "\u207b", "0": "\u2070", "1": "\u00b9", "2": "\u00b2", "3": "\u00b3",
       "4": "\u2074", "5": "\u2075", "6": "\u2076", "7": "\u2077", "8": "\u2078", "9": "\u2079"}


def sup(n):
    return "".join(SUP[c] for c in str(n))


def label_expr(exps):
    e = "round(log(datum.value)/LN10)"
    expr = "''"
    for n in exps:
        expr = f"(({e} == {n}) && (abs(log(datum.value)/LN10 - {e}) < 0.0001)) ? '10{sup(n)}' : {expr}"
    return expr


FONT = "DejaVu Sans"

x_enc = alt.X(
    "freq:Q",
    scale=alt.Scale(type="log", domain=X_DOMAIN, nice=False),
    axis=alt.Axis(
        values=X_TICKS, labelExpr=label_expr(X_DECADES), title=X_TITLE,
        grid=True, gridColor="#b0b0b0", gridWidth=1, gridOpacity=1,
        domain=False, tickColor="black", tickSize=4, tickWidth=1,
        labelFont=FONT, labelFontSize=15, labelColor="black", labelPadding=4,
        labelFlush=False, labelOverlap=False, labelBound=False,
        titleFont=FONT, titleFontSize=25, titleFontWeight="normal", titleColor="black",
        titleY=53, titleBaseline="alphabetic",
    ),
)
y_enc = alt.Y(
    "asd:Q",
    scale=alt.Scale(type="log", domain=Y_DOMAIN, nice=False),
    axis=alt.Axis(
        values=Y_TICKS, labelExpr=label_expr(Y_DECADES), title=Y_TITLE,
        grid=True, gridColor="#b0b0b0", gridWidth=1, gridOpacity=1,
        domain=False, tickColor="black", tickSize=4, tickWidth=1,
        labelFont=FONT, labelFontSize=15, labelColor="black", labelPadding=2,
        labelOverlap=False, labelBound=False,
        titleFont=FONT, titleFontSize=25, titleFontWeight="normal", titleColor="black",
        titleX=-57, titleY=620, titleAngle=270, titleBaseline="alphabetic", titleAlign="center",
    ),
)
color_enc = alt.Color(
    "series:N",
    scale=alt.Scale(domain=SERIES, range=COLORS),
    legend=alt.Legend(
        title=None, orient="none", legendX=1500, legendY=15,
        symbolType="M-2.19,0H2.19", symbolSize=676, symbolStrokeWidth=3.8,
        symbolOffset=16, labelOffset=33,
        labelFont=FONT, labelFontSize=27.3, labelColor="black", labelLimit=500,
        rowPadding=14, padding=9,
        fillColor="rgba(255,255,255,0.8)", strokeColor="#cccccc", cornerRadius=5,
    ),
)

base = alt.Chart(df).mark_line(strokeWidth=3.8, clip=True, strokeJoin="round").encode(
    x=x_enc, y=y_enc, color=color_enc
)
layers = [base.transform_filter(alt.datum.series == s) for s in SERIES]

foot = alt.Chart(pd.DataFrame({"t": [FOOTNOTE]})).mark_text(
    font=FONT, fontSize=16.5, color="black", align="center", baseline="middle"
).encode(x=alt.value(921), y=alt.value(1323), text="t:N")

path_text = alt.Chart(pd.DataFrame({"t": [SCRIPT_PATH]})).mark_text(
    font=FONT, fontSize=16.5, color="black", align="center", baseline="middle", angle=270
).encode(x=alt.value(1988), y=alt.value(688), text="t:N")

chart = alt.layer(*layers, foot, path_text).properties(
    width=1860,
    height=1232,
    title=alt.TitleParams(
        text=TITLE_LINES, fontSize=36, font=FONT, fontWeight="normal", color="black",
        anchor="middle", frame="group", dx=-35, offset=86, lineHeight=40,
    ),
    padding={"left": 292, "top": 184, "right": 232, "bottom": 168},
    autosize=alt.AutoSizeParams(type="none"),
).configure(
    font=FONT, background="white"
).configure_view(
    stroke="black", strokeWidth=1.3
)

chart.save("out.html", embed_options={"renderer": "svg", "actions": False})
